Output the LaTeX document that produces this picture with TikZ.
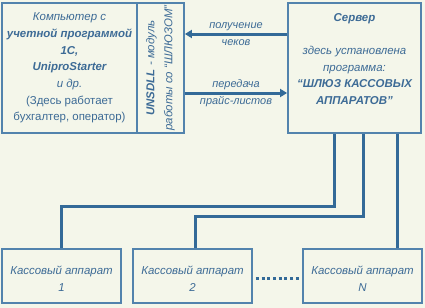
\documentclass[tikz,border=0pt]{standalone}
\usepackage{fontspec}
\setmainfont{Liberation Sans}
\usetikzlibrary{arrows.meta,positioning}

\definecolor{bgcol}{HTML}{F4F6EA}
\definecolor{boxcol}{HTML}{5283AD}
\definecolor{linecol}{HTML}{336A98}
\definecolor{txtcol}{HTML}{3D6B96}

\begin{document}
\begin{tikzpicture}[x=1bp, y=-1bp,
  box/.style={draw=boxcol, line width=1.8bp, inner sep=0pt, align=center},
  txt/.style={text=txtcol, font=\fontsize{11.5}{16.7}\selectfont\itshape, align=center, inner sep=0pt},
  link/.style={draw=linecol, line width=3bp},
  arr/.style={link, -{Triangle[length=7bp,width=8bp]}},
  lbl/.style={txt, font=\fontsize{11}{17}\selectfont\itshape}]
\fill[bgcol] (0,0) rectangle (425,308);
\useasboundingbox (0,0) rectangle (425,308);
% upper row
\node[box, minimum width=135bp, minimum height=130bp] (pc) at (69.5,68) {};
\node[box, minimum width=47bp, minimum height=130bp] (dll) at (160.5,68) {};
\node[box, minimum width=133bp, minimum height=130bp] (srv) at (354.5,68) {};
\node[txt] (pctxt) at (pc.center) {Компьютер с\\\textbf{учетной программой}\\\textbf{1С,}\\\textbf{UniproStarter}\\и др.\\\upshape(Здесь работает\\\upshape бухгалтер, оператор)};
\node[txt, rotate=90, font=\fontsize{11.5}{18}\selectfont\itshape] (dlltxt) at (dll.center) {\textbf{UNSDLL} - модуль\\работы со “ШЛЮЗОМ”};
\node[txt, anchor=north] (srvtxt) at ([yshift=-11bp]srv.north) {\textbf{Сервер}\\[16.7bp]здесь установлена\\программа:\\\textbf{“ШЛЮЗ КАССОВЫХ}\\\textbf{АППАРАТОВ”}};
% lower row
\node[box, minimum width=119bp, minimum height=54bp] (kas1) at (61.5,276) {};
\node[box, minimum width=119bp, minimum height=54bp] (kas2) at (192.5,276) {};
\node[box, minimum width=119bp, minimum height=54bp] (kasN) at (362.5,276) {};
\node[txt] (kas1txt) at ([yshift=-2.5bp]kas1.center) {Кассовый аппарат\\1};
\node[txt] (kas2txt) at ([yshift=-2.5bp]kas2.center) {Кассовый аппарат\\2};
\node[txt] (kasNtxt) at ([yshift=-2.5bp]kasN.center) {Кассовый аппарат\\N};
% data exchange
\draw[arr] (srv.west |- 0,34) -- node[lbl] {получение\\чеков} (dll.east |- 0,34);
\draw[arr] (dll.east |- 0,93) -- node[lbl] {передача\\прайс-листов} (srv.west |- 0,93);
% cash register lines
\coordinate (c1) at ([xshift=47bp]srv.south west);
\coordinate (c2) at ([xshift=76bp]srv.south west);
\coordinate (c3) at ([xshift=110bp]srv.south west);
\draw[link] (c1) |- (61,206) -- (kas1.north -| 61,0);
\draw[link] (c2) |- (195,216) -- (kas2.north -| 195,0);
\draw[link] (c3) -- (c3 |- kasN.north);
\draw[linecol, line width=3bp, dash pattern=on 3bp off 2.7bp] (kas2.east |- 0,278) ++(3,0) -- ([xshift=-3bp]kasN.west |- 0,278);
\end{tikzpicture}
\end{document}
